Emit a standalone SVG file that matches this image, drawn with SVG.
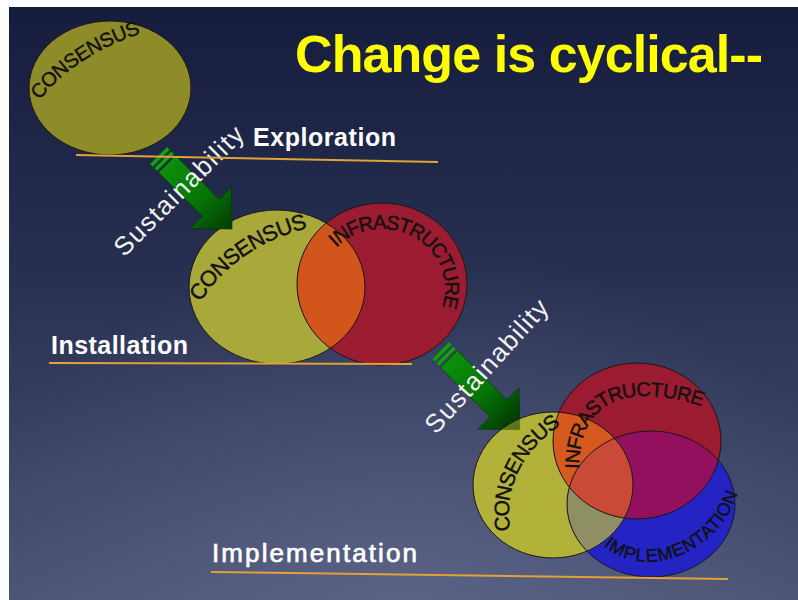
<svg xmlns="http://www.w3.org/2000/svg" width="798" height="600" viewBox="0 0 798 600">
<style>
.lbl{font-family:"Liberation Sans",Arial,sans-serif;fill:#111;stroke:#111;stroke-width:0.4;}
.stage{font-family:"Liberation Sans",Arial,sans-serif;font-weight:bold;fill:#fff;}
.sus{font-family:"Liberation Sans",Arial,sans-serif;fill:#f2f2f2;font-size:26px;}
.title{font-family:"Liberation Sans",Arial,sans-serif;font-weight:bold;fill:#ffff00;font-size:52px;}
.edge{fill:none;stroke:#1c1616;stroke-width:1;}
.rule{stroke:#e3a136;stroke-width:2;fill:none;}
.stripe{fill:#14a014;stroke:#0a5a0a;stroke-width:0.5;}
.shaft{fill:url(#ag);stroke:#053005;stroke-width:0.6;}
</style>
<defs>
<linearGradient id="bg" x1="0" y1="0" x2="0" y2="1">
<stop offset="0" stop-color="#151c3d"/>
<stop offset="0.45" stop-color="#283052"/>
<stop offset="1" stop-color="#4a5274"/>
</linearGradient>
<radialGradient id="glow" cx="0.5" cy="1" r="0.6">
<stop offset="0" stop-color="#7a82a8" stop-opacity="0.35"/>
<stop offset="1" stop-color="#7a82a8" stop-opacity="0"/>
</radialGradient>
<linearGradient id="ag" gradientUnits="userSpaceOnUse" x1="0" y1="0" x2="100" y2="0">
<stop offset="0" stop-color="#0c8f0c"/>
<stop offset="0.5" stop-color="#077307"/>
<stop offset="1" stop-color="#003000"/>
</linearGradient>
<clipPath id="cRed2"><ellipse cx="382" cy="284" rx="85" ry="81"/></clipPath>
<clipPath id="cRed3"><ellipse cx="637" cy="441" rx="84" ry="78"/></clipPath>
<clipPath id="cBlue3"><ellipse cx="651" cy="504" rx="84" ry="73"/></clipPath>
<path id="pC1" d="M15.6,122.4 L33,98 Q66.75,50.75 141,26 L169.5,16.5"/>
<path id="pC2" d="M177.1,324.4 L193,299 Q230.4,239.2 307,220 L336.1,212.7"/>
<path id="pI2" d="M313.1,277.4 A70,67 0 1 1 426.1,341.1"/>
<path id="pC3" d="M505.9,559.8 L502,530 Q493.3,463.2 555,419 L579.7,401.9"/>
<path id="pI3" d="M572,500 L572,470 C572,382 642,379 705,400 L733.5,409.5"/>
<path id="pM3" d="M584.4,521.3 L607,541 C645,574 714,549 732,491 L740.9,462.4"/>
</defs>

<g id="background">
<rect x="0" y="0" width="798" height="600" fill="#ffffff"/>
<rect x="9" y="7" width="789" height="593" fill="url(#bg)"/>
<rect x="9" y="7" width="789" height="593" fill="url(#glow)"/>
</g>

<g id="title">
<text class="title" x="295" y="72" textLength="468" lengthAdjust="spacing">Change is cyclical--</text>
</g>

<g id="node-consensus-1">
<ellipse cx="110" cy="88" rx="81" ry="67" class="edge" style="fill:#8e8c28"/>
<text class="lbl" font-size="20" dominant-baseline="central"><textPath href="#pC1" startOffset="50%" text-anchor="middle">CONSENSUS</textPath></text>
</g>

<g id="node-consensus-2">
<ellipse cx="277" cy="287" rx="88" ry="77" fill="#a9a83b"/>
</g>
<g id="node-infrastructure-2">
<ellipse cx="382" cy="284" rx="85" ry="81" fill="#9b1b30"/>
</g>
<g id="overlap-2">
<ellipse cx="277" cy="287" rx="88" ry="77" fill="#d2561c" clip-path="url(#cRed2)"/>
<ellipse cx="277" cy="287" rx="88" ry="77" class="edge"/>
<ellipse cx="382" cy="284" rx="85" ry="81" class="edge"/>
<text class="lbl" font-size="22" dominant-baseline="central"><textPath href="#pC2" startOffset="50%" text-anchor="middle">CONSENSUS</textPath></text>
<text class="lbl" font-size="20" dominant-baseline="central"><textPath href="#pI2" startOffset="50%" text-anchor="middle">INFRASTRUCTURE</textPath></text>
</g>

<g id="node-consensus-3-base">
<ellipse cx="553" cy="485" rx="80" ry="73" fill="#b2b23a"/>
</g>

<g id="connectors">
<g transform="translate(167,164) rotate(45)">
<rect class="stripe" x="-12" y="-12" width="4" height="24"/>
<rect class="stripe" x="-6" y="-12" width="4" height="24"/>
<path class="shaft" d="M0,-12 H62 V-29 L92,0 L62,29 V12 H0 Z"/>
</g>
<g transform="translate(449,359) rotate(45)">
<rect class="stripe" x="-12" y="-12" width="4" height="24"/>
<rect class="stripe" x="-6" y="-12" width="4" height="24"/>
<path class="shaft" d="M0,-12 H70 V-29 L100,0 L70,29 V12 H0 Z"/>
</g>
<text class="sus" transform="translate(185,197) rotate(-45)" text-anchor="middle" textLength="172" lengthAdjust="spacing">Sustainability</text>
<text class="sus" transform="translate(493,372) rotate(-48)" text-anchor="middle" textLength="170" lengthAdjust="spacing">Sustainability</text>
</g>

<g id="node-consensus-3">
<ellipse cx="553" cy="485" rx="80" ry="73" fill="#b2b23a" fill-opacity="0.5"/>
</g>
<g id="node-infrastructure-3">
<ellipse cx="637" cy="441" rx="84" ry="78" fill="#9b1b30"/>
</g>
<g id="node-implementation-3">
<ellipse cx="651" cy="504" rx="84" ry="73" fill="#2424c4"/>
</g>
<g id="overlap-3">
<ellipse cx="553" cy="485" rx="80" ry="73" fill="#d65a1e" clip-path="url(#cRed3)"/>
<ellipse cx="651" cy="504" rx="84" ry="73" fill="#93105f" clip-path="url(#cRed3)"/>
<ellipse cx="553" cy="485" rx="80" ry="73" fill="#8e9064" clip-path="url(#cBlue3)"/>
<g clip-path="url(#cRed3)"><ellipse cx="553" cy="485" rx="80" ry="73" fill="#c94a36" clip-path="url(#cBlue3)"/></g>
<ellipse cx="553" cy="485" rx="80" ry="73" class="edge"/>
<ellipse cx="637" cy="441" rx="84" ry="78" class="edge"/>
<ellipse cx="651" cy="504" rx="84" ry="73" class="edge"/>
<text class="lbl" font-size="21" dominant-baseline="central"><textPath href="#pC3" startOffset="50%" text-anchor="middle">CONSENSUS</textPath></text>
<text class="lbl" font-size="20" dominant-baseline="central"><textPath href="#pI3" startOffset="50%" text-anchor="middle">INFRASTRUCTURE</textPath></text>
<text class="lbl" font-size="18" dominant-baseline="central"><textPath href="#pM3" startOffset="50%" text-anchor="middle">IMPLEMENTATION</textPath></text>
</g>

<g id="stages">
<line class="rule" x1="76" y1="155" x2="438" y2="162"/>
<line class="rule" x1="49" y1="363" x2="412" y2="364"/>
<line class="rule" x1="211" y1="572" x2="728" y2="579"/>
<text class="stage" x="253" y="146" font-size="25" textLength="143" lengthAdjust="spacing">Exploration</text>
<text class="stage" x="51" y="354" font-size="25" textLength="137" lengthAdjust="spacing">Installation</text>
<text class="stage" x="212" y="562" font-size="26" textLength="205" lengthAdjust="spacing" style="font-weight:normal;stroke:#fff;stroke-width:0.7">Implementation</text>
</g>
</svg>
